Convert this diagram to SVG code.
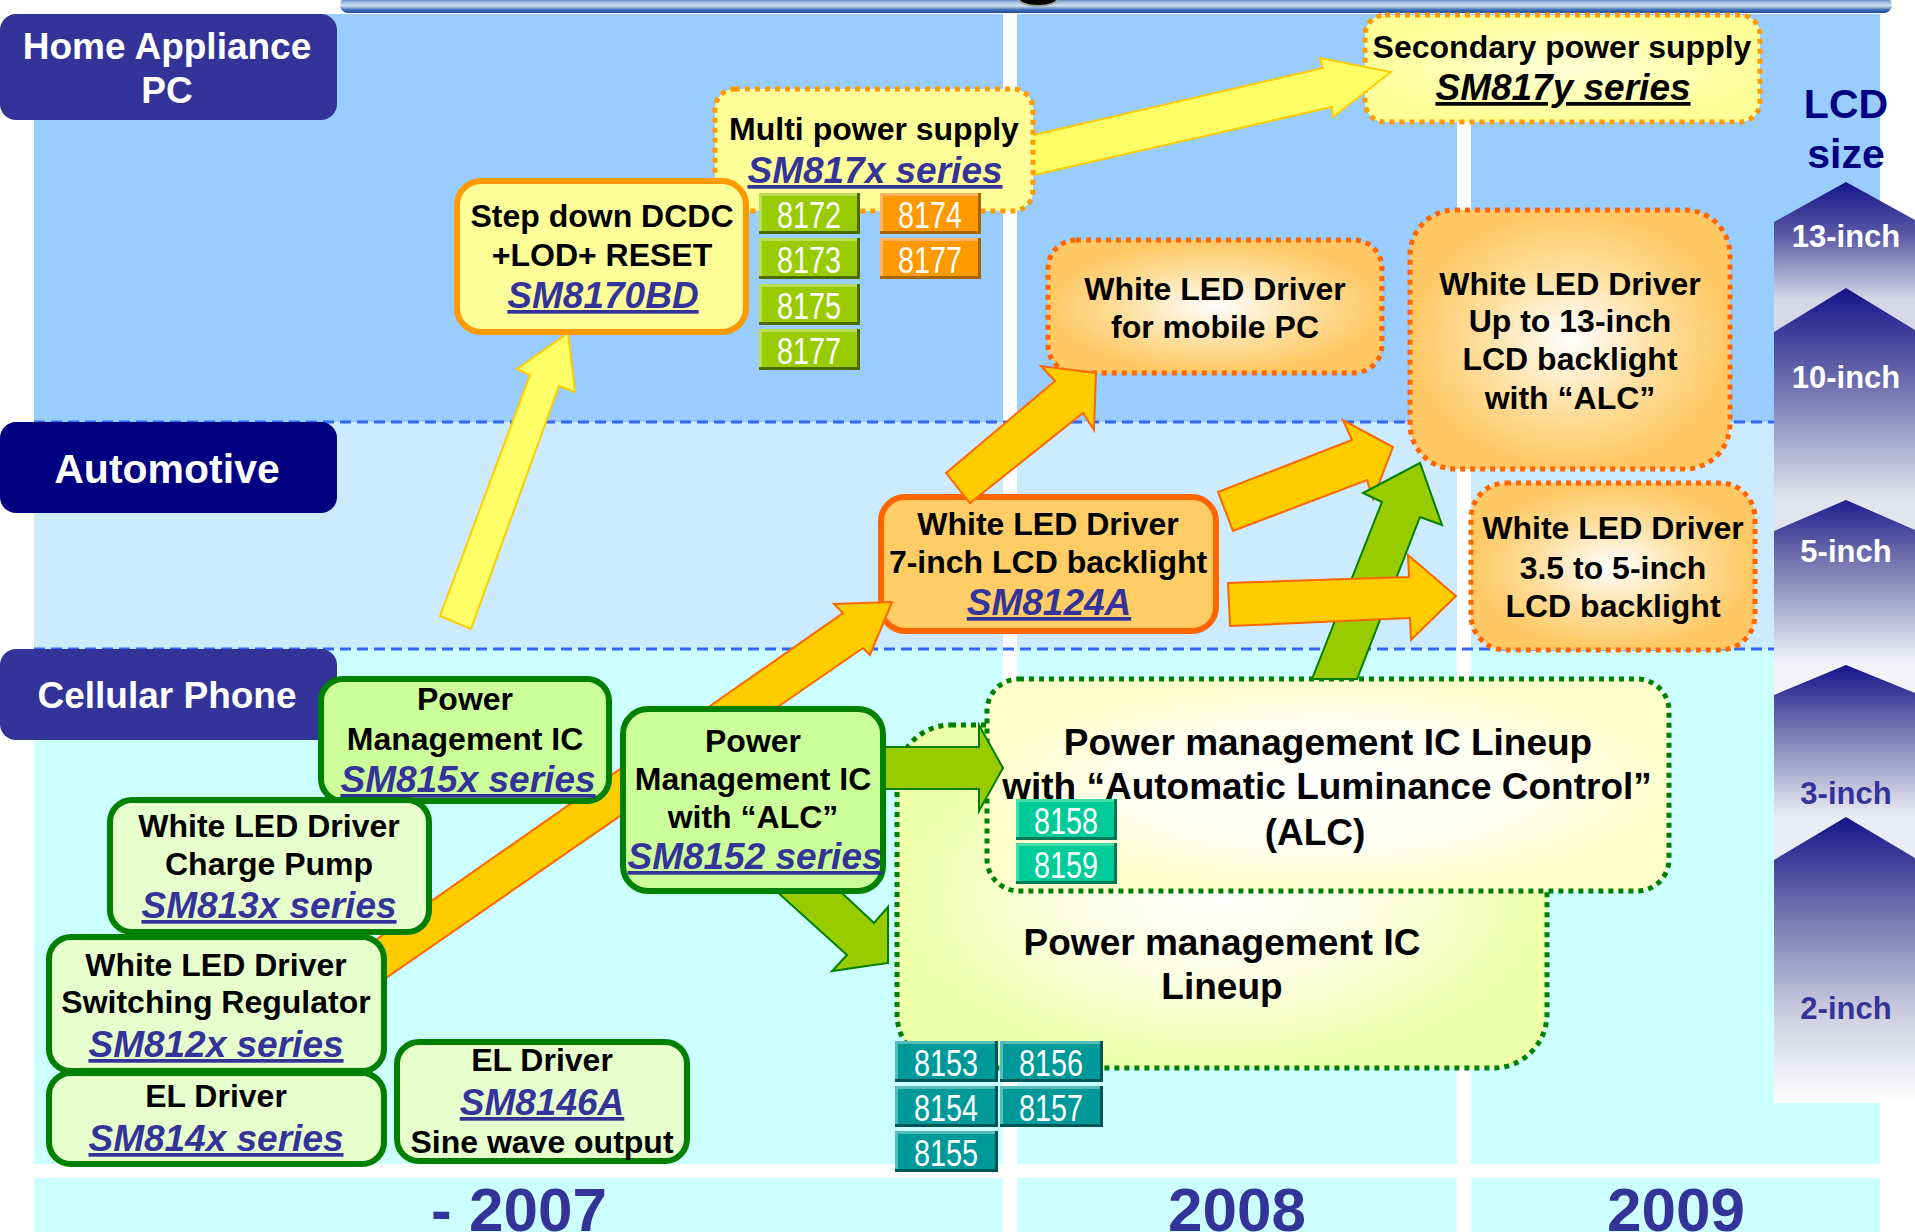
<svg xmlns="http://www.w3.org/2000/svg" width="1915" height="1232" viewBox="0 0 1915 1232">
<defs>
<linearGradient id="topbar" x1="0" y1="0" x2="0" y2="1">
<stop offset="0" stop-color="#1E4A96"/><stop offset="0.35" stop-color="#A8C4E6"/><stop offset="0.55" stop-color="#D0E0F2"/><stop offset="0.8" stop-color="#4070B8"/><stop offset="1" stop-color="#1E4A96"/>
</linearGradient>
<linearGradient id="g13" gradientUnits="userSpaceOnUse" x1="0" y1="182" x2="0" y2="300"><stop offset="0" stop-color="#14148A"/><stop offset="0.45" stop-color="#5A5AA6"/><stop offset="1" stop-color="#D8D8E8"/></linearGradient>
<linearGradient id="g10" gradientUnits="userSpaceOnUse" x1="0" y1="288" x2="0" y2="500"><stop offset="0" stop-color="#14148A"/><stop offset="0.4" stop-color="#6464AA"/><stop offset="1" stop-color="#E4E4EE"/></linearGradient>
<linearGradient id="g5" gradientUnits="userSpaceOnUse" x1="0" y1="500" x2="0" y2="665"><stop offset="0" stop-color="#1E1E8E"/><stop offset="0.35" stop-color="#7070AE"/><stop offset="1" stop-color="#F4F4F8"/></linearGradient>
<linearGradient id="g3" gradientUnits="userSpaceOnUse" x1="0" y1="665" x2="0" y2="817"><stop offset="0" stop-color="#14148A"/><stop offset="0.4" stop-color="#7070B0"/><stop offset="1" stop-color="#ECECF4"/></linearGradient>
<linearGradient id="g2" gradientUnits="userSpaceOnUse" x1="0" y1="817" x2="0" y2="1103"><stop offset="0" stop-color="#14148A"/><stop offset="0.3" stop-color="#6A6AAC"/><stop offset="0.7" stop-color="#D0D0E2"/><stop offset="1" stop-color="#FFFFFF"/></linearGradient>
<radialGradient id="radOr"><stop offset="0" stop-color="#FFFFFF"/><stop offset="0.6" stop-color="#FFDC96"/><stop offset="1" stop-color="#FFC864"/></radialGradient>
<radialGradient id="radBig"><stop offset="0" stop-color="#FFFFFF"/><stop offset="0.5" stop-color="#FCFFE0"/><stop offset="1" stop-color="#EEFFAA"/></radialGradient>
<radialGradient id="radAlc"><stop offset="0" stop-color="#FFFFFF"/><stop offset="0.6" stop-color="#FFFFF0"/><stop offset="1" stop-color="#FFFFCC"/></radialGradient>
<radialGradient id="radSec"><stop offset="0" stop-color="#FFFFD8"/><stop offset="1" stop-color="#FFFF99"/></radialGradient>
<style>
.t{font-family:"Liberation Sans",Arial,sans-serif;font-weight:bold;text-anchor:middle;fill:#000}
.f32{font-size:32px}
.f37{font-size:37px}
.it{font-style:italic;fill:#333399;text-decoration:underline}
.wt{fill:#FFFFFF}
.lbl{fill:#FFFFFF}
.gbox{stroke:#008000;stroke-width:6}
.dotO{stroke:#FF6600;stroke-width:5;stroke-dasharray:5 5}
.dotY{stroke:#FF9900;stroke-width:5;stroke-dasharray:5 5}
.dotG{stroke:#008000;stroke-width:5;stroke-dasharray:5 5}
.dash{stroke:#3366FF;stroke-width:3;stroke-dasharray:11 6}
.chip{font-family:"Liberation Sans",Arial,sans-serif;font-size:37px;fill:#FFFFFF;text-anchor:middle}
.ay{fill:#FFFF66;stroke:#FFCC00;stroke-width:2}
.ao{fill:#FFCC00;stroke:#FF6600;stroke-width:2}
.ag{fill:#99CC00;stroke:#008000;stroke-width:2}
.yr{font-family:"Liberation Sans",Arial,sans-serif;font-weight:bold;font-size:62px;fill:#333399;text-anchor:middle}
.sz{font-family:"Liberation Sans",Arial,sans-serif;font-weight:bold;font-size:31px;text-anchor:middle}
</style>
</defs>

<!-- backgrounds -->
<g id="background">
<rect x="0" y="0" width="1915" height="1232" fill="#FFFFFF"/>
<rect x="34" y="14" width="1846" height="408" fill="#99CCFF"/>
<rect x="34" y="422" width="1846" height="227" fill="#CCEBFF"/>
<rect x="34" y="649" width="1846" height="515" fill="#CCFFFF"/>
<rect x="34" y="1178" width="1846" height="54" fill="#CCFFFF"/>
<rect x="1003" y="14" width="14" height="1218" fill="#FFFFFF"/>
<rect x="1457" y="14" width="14" height="1218" fill="#FFFFFF"/>
<line x1="34" y1="422" x2="1774" y2="422" class="dash"/>
<line x1="34" y1="649" x2="1774" y2="649" class="dash"/>
<rect x="340" y="-3" width="1552" height="16" rx="8" fill="url(#topbar)"/>
<ellipse cx="1038" cy="-2" rx="20" ry="8" fill="#000000" stroke="#A0A0A0" stroke-width="2"/>
</g>

<!-- LCD size column -->
<g id="lcd-size">
<text x="1846" y="118" class="t" style="font-size:41px;fill:#000080">LCD</text>
<text x="1846" y="168" class="t" style="font-size:41px;fill:#000080">size</text>
<polygon points="1774,222 1846,182 1915,220 1915,1103 1774,1103" fill="url(#g13)"/>
<polygon points="1774,332 1846,288 1915,330 1915,1103 1774,1103" fill="url(#g10)"/>
<polygon points="1774,531 1846,500 1915,530 1915,1103 1774,1103" fill="url(#g5)"/>
<polygon points="1774,695 1846,665 1915,693 1915,1103 1774,1103" fill="url(#g3)"/>
<polygon points="1774,860 1846,817 1915,858 1915,1103 1774,1103" fill="url(#g2)"/>
<text x="1846" y="247" class="sz" fill="#FFFFFF">13-inch</text>
<text x="1846" y="388" class="sz" fill="#FFFFFF">10-inch</text>
<text x="1846" y="562" class="sz" fill="#FFFFFF">5-inch</text>
<text x="1846" y="804" class="sz" fill="#333399">3-inch</text>
<text x="1846" y="1019" class="sz" fill="#333399">2-inch</text>
</g>

<!-- category labels -->
<g id="cat-home">
<rect x="0" y="14" width="337" height="106" rx="16" fill="#333399"/>
<text x="167" y="59" class="t lbl" style="font-size:37px">Home Appliance</text>
<text x="167" y="103" class="t lbl" style="font-size:37px">PC</text>
</g>
<g id="cat-automotive">
<rect x="0" y="422" width="337" height="91" rx="16" fill="#000080"/>
<text x="167" y="483" class="t lbl" style="font-size:41px">Automotive</text>
</g>
<g id="cat-cellular">
<rect x="0" y="649" width="337" height="91" rx="16" fill="#333399"/>
<text x="167" y="708" class="t lbl" style="font-size:37px">Cellular Phone</text>
</g>

<!-- years -->
<g id="years">
<text x="519" y="1231" class="yr">- 2007</text>
<text x="1237" y="1231" class="yr">2008</text>
<text x="1676" y="1231" class="yr">2009</text>
</g>

<!-- big lineup box -->
<g id="pm-lineup">
<rect x="897" y="725" width="650" height="343" rx="54" fill="url(#radBig)" class="dotG"/>
<text x="1222" y="955" class="t f37">Power management IC</text>
<text x="1222" y="999" class="t f37">Lineup</text>
</g>
<g id="pm-alc-lineup">
<rect x="987" y="679" width="682" height="212" rx="32" fill="url(#radAlc)" class="dotG"/>
<text x="1328" y="755" class="t f37">Power management IC Lineup</text>
<text x="1327" y="799" class="t f37">with “Automatic Luminance Control”</text>
<text x="1315" y="845" class="t f37">(ALC)</text>
</g>

<!-- chips -->
<g id="chips-815x">
<g id="chip-8158"><rect x="1016" y="799" width="101" height="41" fill="#007755"/><rect x="1016" y="799" width="98" height="38" fill="#44DDAA"/><rect x="1019" y="802" width="95" height="35" fill="#00CC99"/><text x="1066" y="834" class="chip" textLength="64" lengthAdjust="spacingAndGlyphs">8158</text></g>
<g id="chip-8159"><rect x="1016" y="843" width="101" height="41" fill="#007755"/><rect x="1016" y="843" width="98" height="38" fill="#44DDAA"/><rect x="1019" y="846" width="95" height="35" fill="#00CC99"/><text x="1066" y="878" class="chip" textLength="64" lengthAdjust="spacingAndGlyphs">8159</text></g>
<g id="chip-8153"><rect x="895" y="1041" width="103" height="41" fill="#005555"/><rect x="895" y="1041" width="100" height="38" fill="#55BBBB"/><rect x="898" y="1044" width="97" height="35" fill="#009999"/><text x="946" y="1076" class="chip" textLength="64" lengthAdjust="spacingAndGlyphs">8153</text></g>
<g id="chip-8156"><rect x="1000" y="1041" width="103" height="41" fill="#005555"/><rect x="1000" y="1041" width="100" height="38" fill="#55BBBB"/><rect x="1003" y="1044" width="97" height="35" fill="#009999"/><text x="1051" y="1076" class="chip" textLength="64" lengthAdjust="spacingAndGlyphs">8156</text></g>
<g id="chip-8154"><rect x="895" y="1086" width="103" height="41" fill="#005555"/><rect x="895" y="1086" width="100" height="38" fill="#55BBBB"/><rect x="898" y="1089" width="97" height="35" fill="#009999"/><text x="946" y="1121" class="chip" textLength="64" lengthAdjust="spacingAndGlyphs">8154</text></g>
<g id="chip-8157"><rect x="1000" y="1086" width="103" height="41" fill="#005555"/><rect x="1000" y="1086" width="100" height="38" fill="#55BBBB"/><rect x="1003" y="1089" width="97" height="35" fill="#009999"/><text x="1051" y="1121" class="chip" textLength="64" lengthAdjust="spacingAndGlyphs">8157</text></g>
<g id="chip-8155"><rect x="895" y="1131" width="103" height="41" fill="#005555"/><rect x="895" y="1131" width="100" height="38" fill="#55BBBB"/><rect x="898" y="1134" width="97" height="35" fill="#009999"/><text x="946" y="1166" class="chip" textLength="64" lengthAdjust="spacingAndGlyphs">8155</text></g>
</g>

<!-- secondary power supply -->
<g id="secondary-power">
<rect x="1365" y="15" width="395" height="107" rx="20" fill="url(#radSec)" class="dotY"/>
<text x="1562" y="58" class="t f32">Secondary power supply</text>
<text x="1563" y="100" class="t f37" style="font-style:italic;text-decoration:underline">SM817y series</text>
</g>

<!-- connectors -->
<g id="connectors-top">
<polygon class="ay" points="1025,137 1323,68 1320,58 1391,72 1333,117 1332,107 1025,177"/>
</g>

<g id="multi-power">
<rect x="715" y="89" width="318" height="122" rx="20" fill="#FFFF99" class="dotY"/>
<text x="874" y="140" class="t f32">Multi power supply</text>
<text x="875" y="183" class="t f37 it">SM817x series</text>
<g id="chip-8172"><rect x="759" y="193" width="101" height="41" fill="#4B6B00"/><rect x="759" y="193" width="98" height="38" fill="#BBDD55"/><rect x="762" y="196" width="95" height="35" fill="#99CC00"/><text x="809" y="228" class="chip" textLength="64" lengthAdjust="spacingAndGlyphs">8172</text></g>
<g id="chip-8173"><rect x="759" y="238" width="101" height="41" fill="#4B6B00"/><rect x="759" y="238" width="98" height="38" fill="#BBDD55"/><rect x="762" y="241" width="95" height="35" fill="#99CC00"/><text x="809" y="273" class="chip" textLength="64" lengthAdjust="spacingAndGlyphs">8173</text></g>
<g id="chip-8175"><rect x="759" y="284" width="101" height="41" fill="#4B6B00"/><rect x="759" y="284" width="98" height="38" fill="#BBDD55"/><rect x="762" y="287" width="95" height="35" fill="#99CC00"/><text x="809" y="319" class="chip" textLength="64" lengthAdjust="spacingAndGlyphs">8175</text></g>
<g id="chip-8177g"><rect x="759" y="329" width="101" height="41" fill="#4B6B00"/><rect x="759" y="329" width="98" height="38" fill="#BBDD55"/><rect x="762" y="332" width="95" height="35" fill="#99CC00"/><text x="809" y="364" class="chip" textLength="64" lengthAdjust="spacingAndGlyphs">8177</text></g>
<g id="chip-8174"><rect x="880" y="193" width="101" height="41" fill="#A86400"/><rect x="880" y="193" width="98" height="38" fill="#FFB366"/><rect x="883" y="196" width="95" height="35" fill="#FF9900"/><text x="930" y="228" class="chip" textLength="64" lengthAdjust="spacingAndGlyphs">8174</text></g>
<g id="chip-8177o"><rect x="880" y="238" width="101" height="41" fill="#A86400"/><rect x="880" y="238" width="98" height="38" fill="#FFB366"/><rect x="883" y="241" width="95" height="35" fill="#FF9900"/><text x="930" y="273" class="chip" textLength="64" lengthAdjust="spacingAndGlyphs">8177</text></g>
</g>

<g id="connectors-yellow">
<polygon class="ay" points="440,616 530,375 517,369 568,333 575,392 559,386 471,629"/>
</g>

<g id="step-down">
<rect x="457" y="181" width="289" height="151" rx="24" fill="#FFFF99" stroke="#FF9900" stroke-width="6"/>
<text x="602" y="227" class="t f32">Step down DCDC</text>
<text x="602" y="266" class="t f32">+LOD+ RESET</text>
<text x="603" y="308" class="t f37 it">SM8170BD</text>
</g>

<g id="wled-mobile-pc">
<rect x="1048" y="240" width="334" height="133" rx="28" fill="url(#radOr)" class="dotO"/>
<text x="1215" y="300" class="t f32">White LED Driver</text>
<text x="1215" y="338" class="t f32">for mobile PC</text>
</g>
<g id="wled-13inch">
<rect x="1410" y="210" width="320" height="259" rx="45" fill="url(#radOr)" class="dotO"/>
<text x="1570" y="295" class="t f32">White LED Driver</text>
<text x="1570" y="332" class="t f32">Up to 13-inch</text>
<text x="1570" y="370" class="t f32">LCD backlight</text>
<text x="1570" y="409" class="t f32">with “ALC”</text>
</g>
<g id="wled-5inch">
<rect x="1471" y="483" width="284" height="167" rx="35" fill="url(#radOr)" class="dotO"/>
<text x="1613" y="539" class="t f32">White LED Driver</text>
<text x="1613" y="579" class="t f32">3.5 to 5-inch</text>
<text x="1613" y="617" class="t f32">LCD backlight</text>
</g>

<g id="wled-7inch">
<rect x="881" y="497" width="335" height="134" rx="24" fill="#FFCC66" stroke="#FF6600" stroke-width="6"/>
<text x="1048" y="535" class="t f32">White LED Driver</text>
<text x="1048" y="573" class="t f32">7-inch LCD backlight</text>
<text x="1049" y="615" class="t f37 it">SM8124A</text>
</g>

<g id="connectors">
<polygon class="ao" points="350,958 843,613 834,604 892,602 870,655 863,648 357,998"/>
<polygon class="ao" points="946,473 1055,381 1041,366 1096,373 1094,430 1083,413 970,503"/>
<polygon class="ao" points="1218,492 1352,440 1343,420 1393,447 1373,499 1367,480 1233,531"/>
<polygon class="ag" points="1312,679 1382,502 1363,493 1420,463 1442,525 1420,517 1357,679"/>
<polygon class="ao" points="1228,583 1409,577 1408,555 1456,596 1411,640 1410,618 1230,626"/>
<polygon class="ag" points="870,747 979,747 979,725 1003,768 979,811 979,789 870,789"/>
<polygon class="ag" points="764,880 847,955 832,971 888,963 888,907 874,923 828,880"/>
</g>

<!-- green nodes -->
<g id="pmic-815x">
<rect x="321" y="679" width="288" height="122" rx="22" fill="#CCFF99" class="gbox"/>
<text x="465" y="710" class="t f32">Power</text>
<text x="465" y="750" class="t f32">Management IC</text>
<text x="468" y="792" class="t f37 it">SM815x series</text>
</g>
<g id="wled-chargepump">
<rect x="110" y="800" width="319" height="132" rx="22" fill="#E6FFCC" class="gbox"/>
<text x="269" y="837" class="t f32">White LED Driver</text>
<text x="269" y="875" class="t f32">Charge Pump</text>
<text x="269" y="918" class="t f37 it">SM813x series</text>
</g>
<g id="wled-switching">
<rect x="49" y="937" width="335" height="134" rx="22" fill="#E6FFCC" class="gbox"/>
<text x="216" y="976" class="t f32">White LED Driver</text>
<text x="216" y="1013" class="t f32">Switching Regulator</text>
<text x="216" y="1057" class="t f37 it">SM812x series</text>
</g>
<g id="el-814x">
<rect x="49" y="1073" width="335" height="91" rx="22" fill="#E6FFCC" class="gbox"/>
<text x="216" y="1107" class="t f32">EL Driver</text>
<text x="216" y="1151" class="t f37 it">SM814x series</text>
</g>
<g id="el-8146a">
<rect x="397" y="1042" width="290" height="119" rx="22" fill="#E6FFCC" class="gbox"/>
<text x="542" y="1071" class="t f32">EL Driver</text>
<text x="542" y="1115" class="t f37 it">SM8146A</text>
<text x="542" y="1153" class="t f32">Sine wave output</text>
</g>
<g id="pmic-8152">
<rect x="623" y="709" width="260" height="182" rx="25" fill="#CCFF99" class="gbox"/>
<text x="753" y="752" class="t f32">Power</text>
<text x="753" y="790" class="t f32">Management IC</text>
<text x="753" y="828" class="t f32">with “ALC”</text>
<text x="755" y="869" class="t f37 it">SM8152 series</text>
</g>
</svg>
